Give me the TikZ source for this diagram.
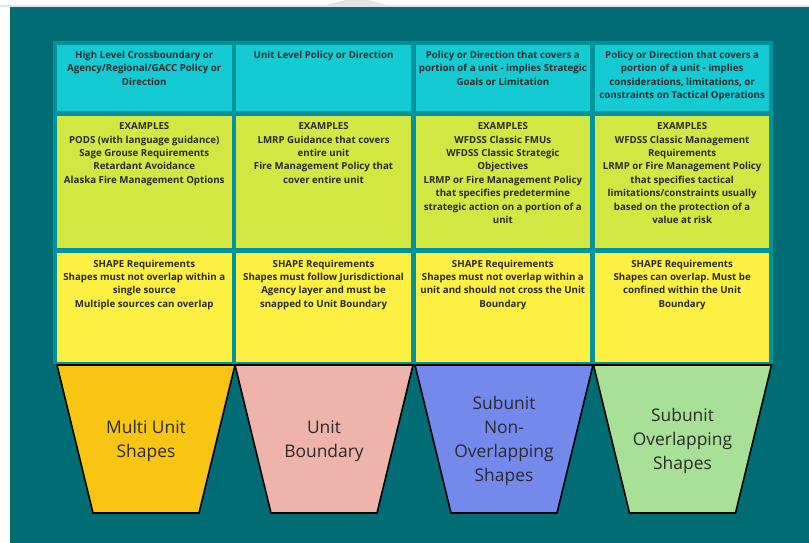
\documentclass[tikz,border=0pt]{standalone}
\usepackage{fontspec}
\setmainfont{Open Sans}
\frenchspacing
\definecolor{bgteal}{HTML}{006D74}
\definecolor{tabteal}{HTML}{00939B}
\definecolor{cyancell}{HTML}{14CBD3}
\definecolor{limecell}{HTML}{D2E742}
\definecolor{yellowcell}{HTML}{FDF042}
\definecolor{goldtrap}{HTML}{F8C513}
\definecolor{pinktrap}{HTML}{EEB4AB}
\definecolor{bluetrap}{HTML}{7489EC}
\definecolor{greentrap}{HTML}{A8E097}
\definecolor{txt}{HTML}{2A2A2A}
\definecolor{bandgrey}{HTML}{E4E4E4}
\tikzset{
  cellbox/.style={anchor=north west, inner sep=0pt, outer sep=0pt, minimum width=174.5pt},
  celltext/.style={anchor=north, inner sep=0pt, align=center, text=txt,
    font=\fontsize{9.7}{13.4}\selectfont\bfseries},
  trap/.style={draw=black, line width=1.6pt, line join=miter},
  traptext/.style={align=center, text=txt, inner sep=0pt,
    font=\fontsize{17.4}{24}\selectfont}
}
\begin{document}
\begin{tikzpicture}[x=1pt,y=-1pt]
\useasboundingbox (0,0) rectangle (809,543);
% page background
\fill[white] (0,0) rectangle (809,543);
\fill[bandgrey] (318,7) -- (345,0) -- (368,0) -- (395,7) -- cycle;
\fill[bandgrey] (0,5.5) rectangle (809,7.2);
\fill[bgteal] (10,7) rectangle (809,543);
% table background
\fill[tabteal] (53,41) rectangle (773,364);
% cells
\foreach \i/\nm in {0/h1,1/h2,2/h3,3/h4}{
  \node[cellbox, fill=cyancell, minimum height=66pt] (\nm) at ({57+\i*179.3},45) {};
  \node[cellbox, fill=limecell, minimum height=132pt] (e\nm) at ({57+\i*179.3},116) {};
  \node[cellbox, fill=yellowcell, minimum height=109pt] (s\nm) at ({57+\i*179.3},253) {};
}
% row 1 texts
\node[celltext] (t11) at ([yshift=-6pt]h1.north) {High Level Crossboundary or\\Agency/Regional/GACC Policy or\\Direction};
\node[celltext] (t12) at ([yshift=-6pt]h2.north) {Unit Level Policy or Direction};
\node[celltext] (t13) at ([yshift=-6pt]h3.north) {Policy or Direction that covers a\\portion of a unit - implies Strategic\\Goals or Limitation};
\node[celltext] (t14) at ([yshift=-6pt]h4.north) {Policy or Direction that covers a\\portion of a unit - implies\\considerations, limitations, or\\constraints on Tactical Operations};
% row 2 texts
\node[celltext] (t21) at ([yshift=-6.5pt]eh1.north) {EXAMPLES\\PODS (with language guidance)\\Sage Grouse Requirements\\Retardant Avoidance\\Alaska Fire Management Options};
\node[celltext] (t22) at ([yshift=-6.5pt]eh2.north) {EXAMPLES\\LMRP Guidance that covers\\entire unit\\Fire Management Policy that\\cover entire unit};
\node[celltext] (t23) at ([yshift=-6.5pt]eh3.north) {EXAMPLES\\WFDSS Classic FMUs\\WFDSS Classic Strategic\\Objectives\\LRMP or Fire Management Policy\\that specifies predetermine\\strategic action on a portion of a\\unit};
\node[celltext] (t24) at ([yshift=-6.5pt]eh4.north) {EXAMPLES\\WFDSS Classic Management\\Requirements\\LRMP or Fire Management Policy\\that specifies tactical\\limitations/constraints usually\\based on the protection of a\\value at risk};
% row 3 texts
\node[celltext] (t31) at ([yshift=-6.5pt]sh1.north) {SHAPE Requirements\\Shapes must not overlap within a\\single source\\Multiple sources can overlap};
\node[celltext] (t32) at ([yshift=-6.5pt]sh2.north) {SHAPE Requirements\\Shapes must follow Jurisdictional\\Agency layer and must be\\snapped to Unit Boundary};
\node[celltext] (t33) at ([yshift=-6.5pt]sh3.north) {SHAPE Requirements\\Shapes must not overlap within a\\unit and should not cross the Unit\\Boundary};
\node[celltext] (t34) at ([yshift=-6.5pt]sh4.north) {SHAPE Requirements\\Shapes can overlap. Must be\\confined within the Unit\\Boundary};
% trapezoids
\foreach \cx/\col in {146/goldtrap,324/pinktrap,504/bluetrap,682.5/greentrap}{
  \filldraw[trap, fill=\col] ({\cx-89},365) -- ({\cx+89},365) -- ({\cx+53},513) -- ({\cx-53},513) -- cycle;
}
\node[traptext] (p1) at (146,441) {Multi Unit\\Shapes};
\node[traptext] (p2) at (324,441) {Unit\\Boundary};
\node[traptext] (p3) at (504,441) {Subunit\\Non-\\Overlapping\\Shapes};
\node[traptext] (p4) at (682.5,441) {Subunit\\Overlapping\\Shapes};
\end{tikzpicture}
\end{document}
